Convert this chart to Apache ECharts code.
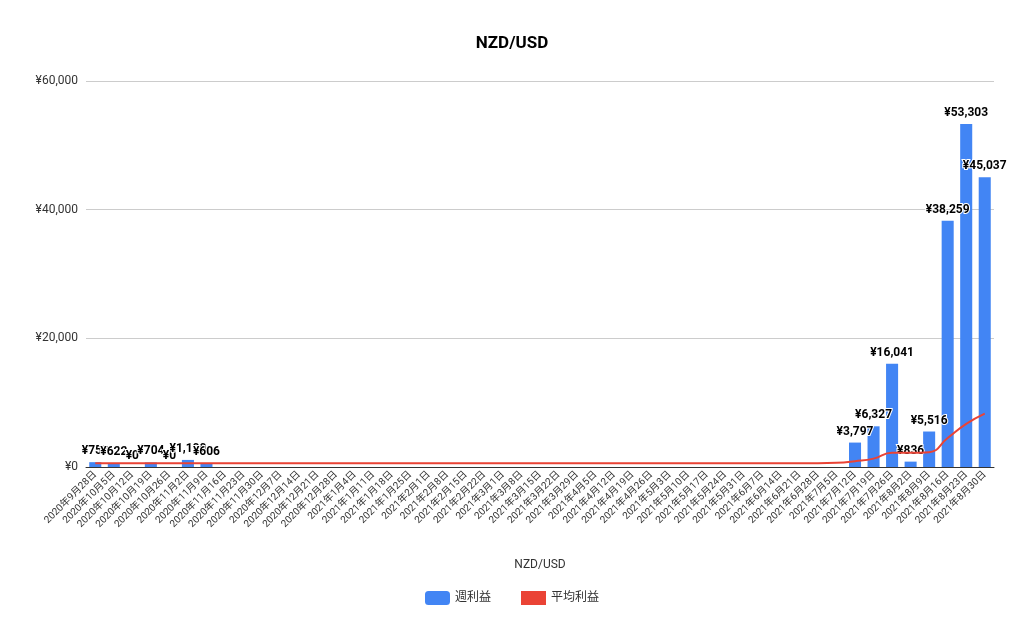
<!DOCTYPE html>
<html>
<head>
<meta charset="utf-8">
<script src="https://cdn.jsdelivr.net/npm/echarts@6/dist/echarts.min.js"></script>
<style>html,body{margin:0;padding:0;background:#fff}#chart{width:1024px;height:634px}</style>
</head>
<body>
<div id="chart"></div>
<script>
// 週ごとの日付ラベル
var weeks = [];
var d = new Date(2020, 8, 28);
for (var i = 0; i < 49; i++) {
    weeks.push(d.getFullYear() + "年" + (d.getMonth() + 1) + "月" + d.getDate() + "日");
    d.setDate(d.getDate() + 7);
}

// 週利益 (null = データなし)
var weeklyProfit = [750, 622, 0, 704, 0, 1100, 606,
    null, null, null, null, null, null, null, null, null, null, null, null, null,
    null, null, null, null, null, null, null, null, null, null, null, null, null,
    null, null, null, null, null, null, null, null,
    3797, 6327, 16041, 836, 5516, 38259, 53303, 45037];

// 平均利益
var avgProfit = [590, 590, 590, 590, 590, 590, 590,
    590, 590, 590, 590, 590, 590, 590, 590, 590, 590, 590, 590, 590,
    590, 590, 590, 590, 590, 590, 590, 590, 590, 590, 590, 590, 590,
    590, 590, 590, 590, 590, 590, 590, 650,
    900, 1300, 2200, 2200, 2300, 4500, 6700, 8300];

var yTicks = [0, 20000, 40000, 60000];

function yen(v) {
    return "¥" + Math.round(v).toString().replace(/\B(?=(\d{3})+(?!\d))/g, ",");
}

var myChart = echarts.init(document.getElementById('chart'));
myChart.setOption({
    textStyle: {fontFamily: "Roboto, 'Noto Sans CJK JP', sans-serif"},
    title: {
        text: 'NZD/USD', left: 'center', top: 30,
        textStyle: {fontSize: 17, fontWeight: 'bold', color: '#000'}
    },
    legend: {
        bottom: 24, left: 'center', itemGap: 30,
        textStyle: {fontSize: 12, color: '#333'},
        data: [{name: '週利益', icon: 'roundRect'}, {name: '平均利益', icon: 'rect'}]
    },
    grid: {left: 86, right: 30, top: 81, bottom: 167},
    xAxis: {
        type: 'category', data: weeks,
        name: 'NZD/USD', nameLocation: 'middle', nameGap: 92,
        nameTextStyle: {fontSize: 12, color: '#333'},
        axisTick: {show: false},
        axisLine: {lineStyle: {color: '#333'}},
        axisLabel: {interval: 0, rotate: 45, fontSize: 10, color: '#333', margin: 6}
    },
    yAxis: {
        type: 'value', min: 0, max: 60000, interval: 20000,
        axisLabel: {formatter: yen, fontSize: 12, color: '#333'},
        splitLine: {lineStyle: {color: '#ccc'}}
    },
    series: [
        {
            name: '週利益', type: 'bar', data: weeklyProfit, barWidth: '65%',
            itemStyle: {color: '#4285F4'},
            label: {
                show: true, position: 'top', formatter: function (p) { return yen(p.value); },
                fontSize: 12, fontWeight: 'bold', color: '#000',
                textBorderColor: '#fff', textBorderWidth: 2
            }
        },
        {
            name: '平均利益', type: 'line', data: avgProfit, smooth: true,
            symbol: 'none', lineStyle: {color: '#EA4335', width: 2},
            itemStyle: {color: '#EA4335'}, z: 3
        }
    ]
});
</script>
</body>
</html>
